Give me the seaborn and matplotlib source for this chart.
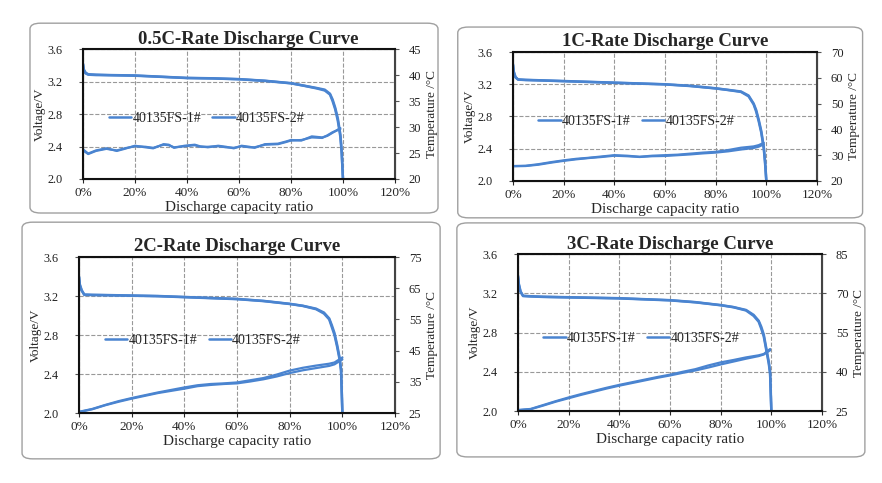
import numpy as np
import matplotlib
matplotlib.use("Agg")
import matplotlib.pyplot as plt
import seaborn as sns
from matplotlib.patches import FancyBboxPatch
from matplotlib.ticker import FuncFormatter, MultipleLocator

sns.set_style("white")
plt.rcParams['font.family'] = ['Liberation Serif', 'DejaVu Serif']

BLUE = '#4a84d0'
cells = ['40135FS-1#', '40135FS-2#']
titles = ['0.5C-Rate Discharge Curve', '1C-Rate Discharge Curve',
          '2C-Rate Discharge Curve', '3C-Rate Discharge Curve']
temp_limits = [(20, 45), (20, 70), (25, 75), (25, 85)]
temp_steps = [5, 10, 10, 15]

# voltage curves, x = discharge capacity ratio (%)
v_x = [0, 0.3, 1, 2, 5, 10, 20, 30, 40, 50, 60, 70, 80, 85, 90, 93, 95, 96, 97, 98, 99, 99.5, 100]
v_05c_1 = [3.42, 3.35, 3.31, 3.29, 3.285, 3.28, 3.275, 3.26, 3.245, 3.24, 3.23, 3.21, 3.18, 3.15, 3.12, 3.10, 3.05, 2.98, 2.88, 2.75, 2.55, 2.35, 2.0]
v_05c_2 = [3.41, 3.34, 3.30, 3.285, 3.28, 3.278, 3.272, 3.258, 3.243, 3.238, 3.228, 3.208, 3.178, 3.148, 3.115, 3.09, 3.04, 2.96, 2.86, 2.72, 2.52, 2.32, 2.0]
v_1c_1 = [3.45, 3.36, 3.29, 3.26, 3.255, 3.25, 3.24, 3.23, 3.22, 3.21, 3.20, 3.18, 3.15, 3.13, 3.11, 3.06, 2.96, 2.88, 2.76, 2.62, 2.42, 2.25, 2.0]
v_1c_2 = [3.44, 3.35, 3.285, 3.258, 3.252, 3.248, 3.238, 3.228, 3.218, 3.208, 3.198, 3.178, 3.148, 3.128, 3.105, 3.05, 2.95, 2.86, 2.74, 2.60, 2.40, 2.22, 2.0]
v_2c_1 = [3.40, 3.32, 3.26, 3.215, 3.212, 3.21, 3.205, 3.20, 3.19, 3.18, 3.17, 3.15, 3.12, 3.10, 3.07, 3.03, 2.97, 2.90, 2.82, 2.70, 2.56, 2.45, 2.0]
v_2c_2 = [3.39, 3.31, 3.255, 3.212, 3.21, 3.208, 3.203, 3.198, 3.188, 3.178, 3.168, 3.148, 3.118, 3.098, 3.065, 3.02, 2.96, 2.88, 2.80, 2.68, 2.54, 2.43, 2.0]
v_3c_1 = [3.38, 3.30, 3.22, 3.175, 3.17, 3.165, 3.16, 3.155, 3.15, 3.14, 3.13, 3.11, 3.08, 3.06, 3.03, 2.98, 2.92, 2.86, 2.78, 2.64, 2.50, 2.40, 2.0]
v_3c_2 = [3.37, 3.29, 3.215, 3.172, 3.168, 3.163, 3.158, 3.153, 3.148, 3.138, 3.128, 3.108, 3.078, 3.058, 3.025, 2.97, 2.91, 2.84, 2.76, 2.62, 2.48, 2.38, 2.0]

# temperature curves (°C)
t_05c_x = [0, 2, 5, 9, 13, 16, 20, 24, 27, 31, 33, 35, 39, 43, 45, 48, 52, 55, 58, 61, 64, 66, 70, 75, 78, 80, 84, 88, 92, 94, 96, 99]
t_05c_1 = [25.7, 24.9, 25.5, 25.9, 25.4, 25.8, 26.4, 26.1, 25.9, 26.7, 26.6, 26.0, 26.4, 26.6, 26.3, 26.1, 26.4, 26.2, 25.9, 26.4, 26.2, 26.0, 26.7, 26.8, 27.2, 27.5, 27.4, 28.2, 28.0, 28.3, 28.9, 29.8]
t_05c_2 = [25.5, 24.8, 25.4, 25.8, 25.5, 25.9, 26.3, 26.2, 26.0, 26.6, 26.5, 26.1, 26.3, 26.5, 26.2, 26.2, 26.3, 26.1, 26.0, 26.3, 26.1, 26.1, 26.6, 26.7, 27.1, 27.4, 27.5, 28.0, 27.9, 28.4, 29.0, 29.6]
t_1c_x = [0, 5, 10, 15, 20, 25, 30, 35, 40, 45, 50, 55, 60, 65, 70, 75, 80, 85, 90, 95, 97, 99]
t_1c_1 = [25.8, 25.9, 26.5, 27.3, 28.0, 28.6, 29.0, 29.5, 30.0, 29.8, 29.4, 29.8, 30.0, 30.2, 30.6, 31.0, 31.3, 32.0, 32.9, 33.4, 33.9, 34.8]
t_1c_2 = [25.7, 25.8, 26.3, 27.1, 27.8, 28.4, 28.9, 29.3, 29.8, 29.6, 29.3, 29.6, 29.7, 30.0, 30.3, 30.7, 31.0, 31.5, 32.2, 32.8, 33.3, 34.2]
t_2c_x = [0, 5, 10, 15, 20, 25, 30, 35, 40, 45, 50, 55, 60, 65, 70, 75, 80, 85, 90, 95, 97, 100]
t_2c_1 = [25.4, 26.3, 27.6, 28.8, 29.8, 30.7, 31.6, 32.4, 33.2, 33.9, 34.3, 34.5, 34.8, 35.5, 36.2, 37.3, 38.6, 39.5, 40.2, 40.8, 41.2, 42.8]
t_2c_2 = [25.3, 26.2, 27.5, 28.6, 29.6, 30.5, 31.4, 32.1, 32.8, 33.6, 34.0, 34.3, 34.5, 35.1, 35.8, 36.7, 37.8, 38.7, 39.4, 40.1, 40.6, 42.2]
t_3c_x = [0, 5, 10, 15, 20, 25, 30, 35, 40, 45, 50, 55, 60, 65, 70, 75, 80, 85, 90, 95, 97, 99.5]
t_3c_1 = [25.4, 25.8, 27.3, 28.8, 30.2, 31.5, 32.7, 33.9, 35.0, 36.0, 37.0, 38.0, 38.9, 40.0, 41.0, 42.4, 43.6, 44.5, 45.5, 46.3, 46.8, 48.7]
t_3c_2 = [25.3, 25.7, 27.1, 28.6, 29.9, 31.2, 32.4, 33.6, 34.7, 35.7, 36.7, 37.7, 38.6, 39.6, 40.5, 41.6, 42.8, 43.9, 45.0, 46.0, 46.6, 48.2]

voltage = [(v_05c_1, v_05c_2), (v_1c_1, v_1c_2), (v_2c_1, v_2c_2), (v_3c_1, v_3c_2)]
temp_x = [t_05c_x, t_1c_x, t_2c_x, t_3c_x]
temp = [(t_05c_1, t_05c_2), (t_1c_1, t_1c_2), (t_2c_1, t_2c_2), (t_3c_1, t_3c_2)]

# layout in figure fractions
axes_pos = [[0.0941, 0.6294, 0.3537, 0.2690],
            [0.5816, 0.6253, 0.3447, 0.2670],
            [0.0896, 0.1449, 0.3583, 0.3230],
            [0.5873, 0.1490, 0.3447, 0.3250]]
box_pos = [[0.034, 0.559, 0.4626, 0.393],
           [0.519, 0.549, 0.459, 0.395],
           [0.025, 0.050, 0.474, 0.490],
           [0.518, 0.054, 0.4626, 0.4845]]
title_x = [0.53, 0.5, 0.5, 0.5]

fig = plt.figure(figsize=(8.82, 4.83), dpi=100)

for (bx, by, bw, bh) in box_pos:
    fig.patches.append(FancyBboxPatch((bx, by), bw, bh, boxstyle='round,pad=0,rounding_size=0.012',
                                      transform=fig.transFigure, facecolor='white',
                                      edgecolor='#a0a0a0', linewidth=1.0, zorder=-5))

for i in range(4):
    ax = fig.add_axes(axes_pos[i])
    ax.set_facecolor('none')
    for j in range(2):
        sns.lineplot(x=v_x, y=voltage[i][j], ax=ax, color=BLUE, linewidth=1.8,
                     label=cells[j], estimator=None, sort=False)
    ax.set_xlim(0, 120)
    ax.set_ylim(2.0, 3.6)
    ax.xaxis.set_major_locator(MultipleLocator(20))
    ax.yaxis.set_major_locator(MultipleLocator(0.4))
    ax.xaxis.set_major_formatter(FuncFormatter(lambda v, p: f'{v:.0f}%'))
    ax.yaxis.set_major_formatter(FuncFormatter(lambda v, p: f'{v:.1f}'))
    ax.grid(True, linestyle='--', color='#999999', linewidth=0.8)
    ax.tick_params(axis='x', labelsize=9.5, length=3, direction='out', bottom=True, pad=3)
    ax.tick_params(axis='y', labelsize=8.8, length=3, direction='out', left=True, pad=12,
                   colors='#555555', labelcolor='#222222')
    ax.set_ylabel('Voltage/V', fontsize=9.5, labelpad=1)
    ax.set_xlabel('Discharge capacity ratio', fontsize=11, labelpad=1)
    ax.set_title(titles[i], fontsize=13.5, fontweight='bold', pad=4, x=title_x[i])
    ax.legend(loc='center left', bbox_to_anchor=(0.065, 0.465), ncol=2, frameon=False,
              fontsize=10, handlelength=1.6, columnspacing=0.8, handletextpad=0.1,
              borderaxespad=0)

    ax2 = ax.twinx()
    for j in range(2):
        sns.lineplot(x=temp_x[i], y=temp[i][j], ax=ax2, color=BLUE, linewidth=1.6,
                     estimator=None, sort=False, legend=False)
    lo, hi = temp_limits[i]
    ax2.set_ylim(lo, hi)
    ax2.set_yticks(np.arange(lo, hi + 1, temp_steps[i]))
    ax2.tick_params(labelsize=9, length=3, direction='out', right=True, pad=7,
                    colors='#555555', labelcolor='#222222')
    ax2.set_ylabel('Temperature /°C', fontsize=9.5, labelpad=3)
    for s in ax2.spines.values():
        s.set_color('#111111')
        s.set_linewidth(1.5)
    ax2.spines['right'].set_color('#444444')

fig.savefig('out.png', dpi=100)
